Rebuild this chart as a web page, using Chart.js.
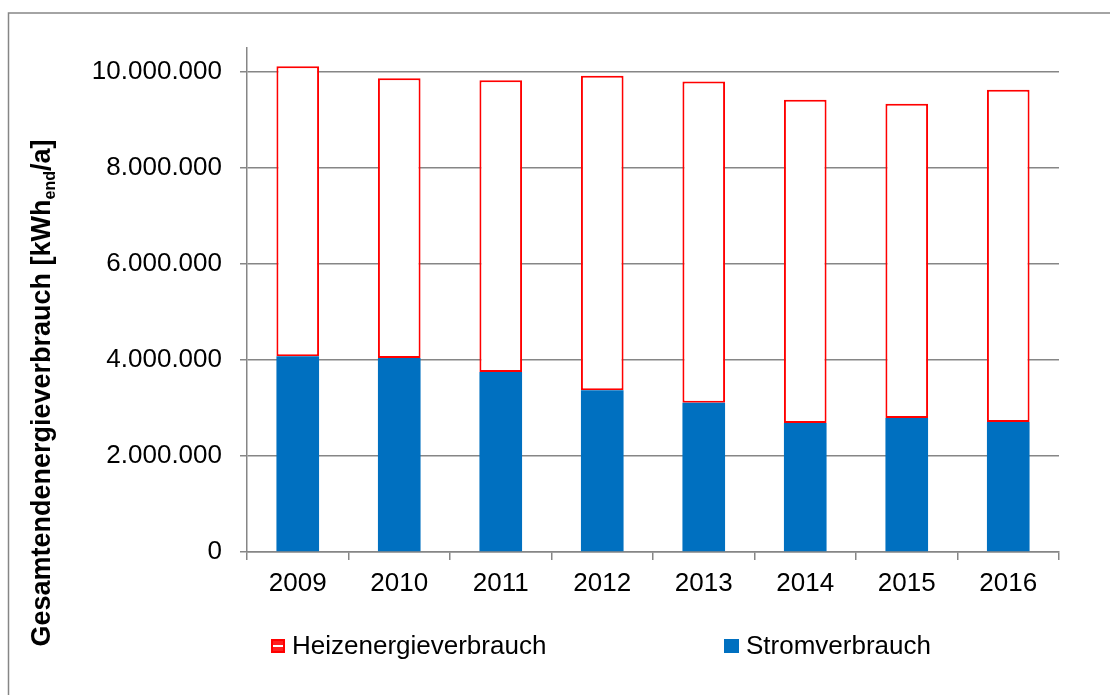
<!DOCTYPE html>
<html>
<head>
<meta charset="utf-8">
<script src="https://cdn.jsdelivr.net/npm/chart.js@4.4.0/dist/chart.umd.min.js"></script>
<style>
  body { margin: 0; background: #fff; }
  #wrap { position: relative; width: 1110px; height: 695px; overflow: hidden; }
  .leg { position: absolute; top: 630px; font: 26px 'Liberation Sans', Arial, sans-serif; color: #000; line-height: 30px; white-space: nowrap; }
  .leg .box { position: absolute; top: 9px; width: 14px; height: 14px; box-sizing: border-box; }
  .leg span.t { position: absolute; top: 0; }
  #legHeiz .box { left: 0; border: 2px solid #ff0000; background: linear-gradient(#ff2020 0 40%, #fff 40% 60%, #ff2020 60% 100%); }
  #legStrom .box { left: 0; background: #0070c0; width: 15px; }
</style>
</head>
<body>
<div id="wrap">
  <canvas id="chart" width="1110" height="695"></canvas>
  <div class="leg" id="legHeiz" style="left:271px;"><div class="box"></div><span class="t" style="left:21px;">Heizenergieverbrauch</span></div>
  <div class="leg" id="legStrom" style="left:724px;"><div class="box"></div><span class="t" style="left:22px;">Stromverbrauch</span></div>
</div>
<script>
const years = ['2009', '2010', '2011', '2012', '2013', '2014', '2015', '2016'];
// Stromverbrauch (unten, blau)
const strom = [4080000, 4040000, 3750000, 3370000, 3110000, 2690000, 2790000, 2710000];
// Heizenergieverbrauch (oben, rot umrandet)
const heizung = [6040000, 5830000, 6080000, 6550000, 6690000, 6730000, 6550000, 6920000];
const yTicks = [0, 2000000, 4000000, 6000000, 8000000, 10000000];

const FONT = "'Liberation Sans', Arial, sans-serif";
const GRAU = '#868686';

function fmtDE(v) {
  return String(Math.round(v)).replace(/\B(?=(\d{3})+(?!\d))/g, '.');
}

// Rahmen + Achsentitel mit Index "end"
const extras = {
  id: 'extras',
  afterDraw(chart) {
    const ctx = chart.ctx;
    ctx.save();
    ctx.strokeStyle = GRAU;
    ctx.lineWidth = 1.5;
    ctx.strokeRect(8.5, 13, 1300, 900);

    const big = 'bold 27px ' + FONT, small = 'bold 16px ' + FONT;
    const parts = [
      { t: 'Gesamtendenergieverbrauch [kWh', f: big, dy: 0 },
      { t: 'end', f: small, dy: 5 },
      { t: '/a]', f: big, dy: 0 }
    ];
    let total = 0;
    parts.forEach(p => { ctx.font = p.f; p.w = ctx.measureText(p.t).width; total += p.w; });
    ctx.translate(50, 393);
    ctx.rotate(-Math.PI / 2);
    ctx.fillStyle = '#000';
    ctx.textBaseline = 'alphabetic';
    ctx.textAlign = 'left';
    let x = -total / 2;
    parts.forEach(p => { ctx.font = p.f; ctx.fillText(p.t, x, p.dy); x += p.w; });
    ctx.restore();
  }
};

new Chart(document.getElementById('chart'), {
  type: 'bar',
  data: {
    labels: years,
    datasets: [
      { label: 'Stromverbrauch', data: strom, backgroundColor: '#0070c0', borderWidth: 0, stack: 's' },
      { label: 'Heizenergieverbrauch', data: heizung, backgroundColor: '#ffffff', borderColor: '#ff0000', borderWidth: 2, borderSkipped: false, stack: 's' }
    ]
  },
  options: {
    responsive: false,
    animation: false,
    datasets: { bar: { categoryPercentage: 1, barPercentage: 0.42 } },
    layout: { padding: { left: 0, top: 48, right: 51, bottom: 83 } },
    plugins: { legend: { display: false }, tooltip: { enabled: false } },
    scales: {
      x: {
        stacked: true,
        afterFit: s => { s.height = 60; },
        grid: { display: true, drawOnChartArea: false, offset: true, tickLength: 8, color: GRAU, lineWidth: 1.5 },
        border: { color: GRAU, width: 1.5 },
        ticks: { color: '#000', font: { family: FONT, size: 26 }, padding: 8, maxRotation: 0 }
      },
      y: {
        stacked: true,
        min: 0, max: 10500000,
        afterFit: s => { s.width = 247; },
        afterBuildTicks: s => { s.ticks = yTicks.map(v => ({ value: v })); },
        grid: { color: GRAU, lineWidth: 1.5, tickLength: 7 },
        border: { color: GRAU, width: 1.5 },
        ticks: { color: '#000', font: { family: FONT, size: 26 }, padding: 18, callback: v => fmtDE(v) }
      }
    }
  },
  plugins: [extras]
});
</script>
</body>
</html>
